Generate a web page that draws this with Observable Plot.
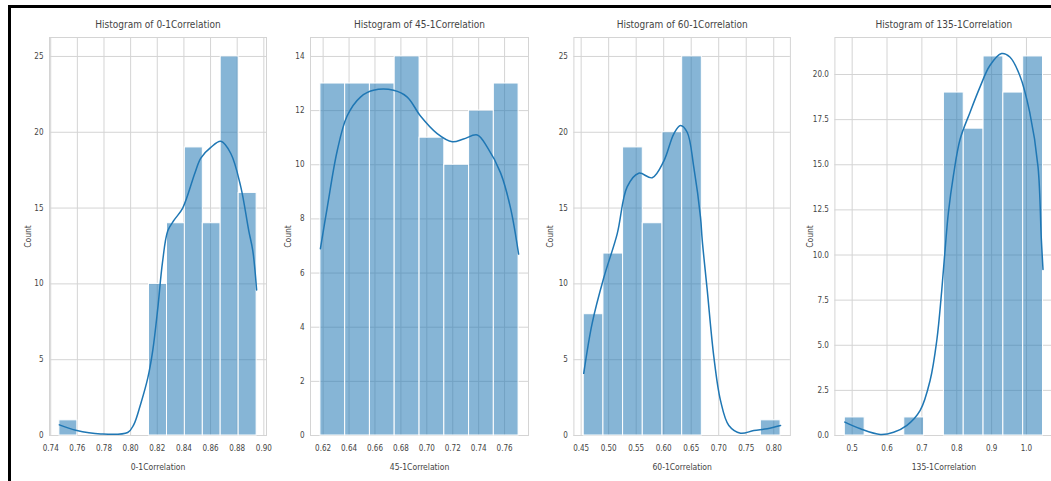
<!DOCTYPE html>
<html>
<head>
<meta charset="utf-8">
<script src="https://cdn.jsdelivr.net/npm/d3@7"></script>
<script src="https://cdn.jsdelivr.net/npm/@observablehq/plot@0.6"></script>
<style>
  html, body { margin: 0; padding: 0; background: #fff; }
  #wrap { position: relative; width: 1051px; height: 481px; overflow: hidden; background: #fff; }
  .panel { position: absolute; top: 0; }
  .panel svg { max-width: none !important; }
  #border { position: absolute; left: 8px; top: 5px; width: 1200px; height: 600px;
            border-top: 3px solid #000; border-left: 3px solid #000; pointer-events: none; }
</style>
</head>
<body>
<div id="wrap"><div id="border"></div></div>
<script>
// ---------- Panel titles / labels ----------
const titles = ["Histogram of 0-1Correlation", "Histogram of 45-1Correlation",
                "Histogram of 60-1Correlation", "Histogram of 135-1Correlation"];
const xLabels = ["0-1Correlation", "45-1Correlation", "60-1Correlation", "135-1Correlation"];
const yLabel = "Count";

// ---------- Panel 1: 0-1Correlation ----------
const p1Edges  = [0.7465, 0.7600, 0.7734, 0.7869, 0.8003, 0.8138, 0.8273, 0.8407, 0.8542, 0.8676, 0.8811, 0.8946];
const p1Counts = [1, 0, 0, 0, 0, 10, 14, 19, 14, 25, 16];
const p1KdeX = [0.7465, 0.7588, 0.7776, 0.7978, 0.8023, 0.8076, 0.8129, 0.8166, 0.8204, 0.8239, 0.8279, 0.8326, 0.8391, 0.8482, 0.8527, 0.8602, 0.8677, 0.8752, 0.8827, 0.8887, 0.8917, 0.8946];
const p1KdeY = [0.7, 0.35, 0.1, 0.2, 0.7, 2.1, 3.8, 5.6, 8.4, 11.4, 13.5, 14.2, 15.0, 17.3, 18.3, 19.0, 19.4, 18.6, 16.4, 13.5, 12.2, 9.6];
const p1XTicks = [0.74, 0.76, 0.78, 0.80, 0.82, 0.84, 0.86, 0.88, 0.90];
const p1YTicks = [0, 5, 10, 15, 20, 25];

// ---------- Panel 2: 45-1Correlation ----------
const p2Edges  = [0.6179, 0.6370, 0.6561, 0.6752, 0.6944, 0.7135, 0.7326, 0.7517, 0.7708];
const p2Counts = [13, 13, 13, 14, 11, 10, 12, 13];
const p2KdeX = [0.6179, 0.6231, 0.6308, 0.6385, 0.6488, 0.6588, 0.6743, 0.6849, 0.6951, 0.7080, 0.7196, 0.7283, 0.7389, 0.7466, 0.7569, 0.7646, 0.7708];
const p2KdeY = [6.9, 8.4, 10.5, 11.8, 12.5, 12.75, 12.75, 12.5, 11.8, 11.15, 10.85, 10.95, 11.1, 10.65, 9.7, 8.4, 6.7];
const p2XTicks = [0.62, 0.64, 0.66, 0.68, 0.70, 0.72, 0.74, 0.76];
const p2YTicks = [0, 2, 4, 6, 8, 10, 12, 14];

// ---------- Panel 3: 60-1Correlation ----------
const p3Edges  = [0.4547, 0.4905, 0.5262, 0.5620, 0.5978, 0.6336, 0.6693, 0.7051, 0.7409, 0.7766, 0.8124];
const p3Counts = [8, 12, 19, 14, 20, 25, 0, 0, 0, 1];
const p3KdeX = [0.4547, 0.4700, 0.4911, 0.5155, 0.5336, 0.5547, 0.5791, 0.6002, 0.6184, 0.6305, 0.6427, 0.6547, 0.6669, 0.6700, 0.6791, 0.6911, 0.7033, 0.7184, 0.7397, 0.7638, 0.7882, 0.8124];
const p3KdeY = [4.1, 7.4, 10.4, 13.3, 16.4, 17.3, 17.0, 18.1, 19.9, 20.45, 20.0, 17.7, 14.4, 12.9, 9.6, 5.2, 2.3, 0.66, 0.15, 0.33, 0.45, 0.66];
const p3XTicks = [0.45, 0.50, 0.55, 0.60, 0.65, 0.70, 0.75, 0.80];
const p3YTicks = [0, 5, 10, 15, 20, 25];

// ---------- Panel 4: 135-1Correlation ----------
const p4Edges  = [0.4789, 0.5358, 0.5926, 0.6495, 0.7063, 0.7632, 0.8200, 0.8769, 0.9337, 0.9906, 1.0474];
const p4Counts = [1, 0, 0, 1, 0, 19, 17, 21, 19, 21];
const p4KdeX = [0.4789, 0.5237, 0.5809, 0.6189, 0.6571, 0.6951, 0.7237, 0.7429, 0.7571, 0.7666, 0.7760, 0.7903, 0.8094, 0.8380, 0.8666, 0.8951, 0.9286, 0.9523, 0.9809, 1.0094, 1.0331, 1.0426, 1.0474];
const p4KdeY = [0.74, 0.37, 0.06, 0.18, 0.56, 1.39, 3.06, 5.29, 8.07, 10.3, 12.34, 14.38, 16.4, 17.9, 19.3, 20.5, 21.16, 20.97, 19.95, 17.9, 14.9, 10.9, 9.2];
const p4XTicks = [0.5, 0.6, 0.7, 0.8, 0.9, 1.0];
const p4YTicks = [0, 2.5, 5, 7.5, 10, 12.5, 15, 17.5, 20];

// ---------- Layout (styling only) ----------
const FONT = "'DejaVu Sans Condensed', 'Liberation Sans Narrow', sans-serif";
const BLUE = "#1f77b4";
const GRID = "#d4d4d4";
const TEXT = "#444444";

const panels = [
  {edges: p1Edges, counts: p1Counts, kx: p1KdeX, ky: p1KdeY, xt: p1XTicks, yt: p1YTicks, xf: ".2f", yf: "d",
   left: 0, width: 268, ml: 49, mr: 2, countDx: -21},
  {edges: p2Edges, counts: p2Counts, kx: p2KdeX, ky: p2KdeY, xt: p2XTicks, yt: p2YTicks, xf: ".2f", yf: "d",
   left: 268, width: 262, ml: 42, mr: 2, countDx: -22},
  {edges: p3Edges, counts: p3Counts, kx: p3KdeX, ky: p3KdeY, xt: p3XTicks, yt: p3YTicks, xf: ".2f", yf: "d",
   left: 530, width: 262, ml: 43.4, mr: 2.1, countDx: -24},
  {edges: p4Edges, counts: p4Counts, kx: p4KdeX, ky: p4KdeY, xt: p4XTicks, yt: p4YTicks, xf: ".1f", yf: ".1f",
   left: 792, width: 262, ml: 42.4, mr: 1.6, countDx: -25}
];

const wrap = document.getElementById("wrap");

panels.forEach((p, i) => {
  const bins = p.counts.map((c, j) => ({x1: p.edges[j], x2: p.edges[j + 1], count: c}))
                       .filter(d => d.count > 0);
  const kde = p.kx.map((x, j) => ({x, y: p.ky[j]}));
  const lo = p.edges[0], hi = p.edges[p.edges.length - 1];
  const pad = (hi - lo) * 0.05;
  const ymax = d3.max(p.counts) * 1.05;

  const chart = Plot.plot({
    width: p.width,
    height: 481,
    marginTop: 37,
    marginBottom: 46,
    marginLeft: p.ml,
    marginRight: p.mr,
    x: {domain: [lo - pad, hi + pad]},
    y: {domain: [0, ymax]},
    style: {fontFamily: FONT, fontSize: "8px", color: TEXT, background: "transparent",
            overflow: "visible", maxWidth: "none"},
    marks: [
      Plot.gridX(p.xt, {stroke: GRID, strokeOpacity: 1, strokeWidth: 1}),
      Plot.gridY(p.yt, {stroke: GRID, strokeOpacity: 1, strokeWidth: 1}),
      Plot.frame({stroke: GRID, strokeOpacity: 1}),
      Plot.rectY(bins, {x1: "x1", x2: "x2", y: "count", fill: BLUE, fillOpacity: 0.54,
                        stroke: "white", strokeWidth: 1, insetLeft: 0, insetRight: 0}),
      Plot.line(kde, {x: "x", y: "y", stroke: BLUE, strokeWidth: 1.5, curve: "catmull-rom"}),
      Plot.axisX(p.xt, {tickSize: 0, tickPadding: 10, tickFormat: d3.format(p.xf), label: null,
                        fontSize: 8, fill: TEXT}),
      Plot.axisY(p.yt, {tickSize: 0, tickPadding: 6, tickFormat: d3.format(p.yf), label: null,
                        fontSize: 8, fill: TEXT}),
      Plot.text([titles[i]], {text: d => d, frameAnchor: "top", lineAnchor: "middle", dy: -13,
                              fontSize: 10, fill: TEXT}),
      Plot.text([xLabels[i]], {text: d => d, frameAnchor: "bottom", lineAnchor: "middle", dy: 32,
                               fontSize: 8.5, fill: TEXT}),
      Plot.text([yLabel], {text: d => d, frameAnchor: "left", lineAnchor: "middle", textAnchor: "middle",
                           rotate: -90, dx: p.countDx, fontSize: 8.5, fill: TEXT})
    ]
  });
  const holder = document.createElement("div");
  holder.className = "panel";
  holder.style.left = p.left + "px";
  holder.style.width = p.width + "px";
  holder.appendChild(chart);
  wrap.insertBefore(holder, document.getElementById("border"));
});
</script>
</body>
</html>
